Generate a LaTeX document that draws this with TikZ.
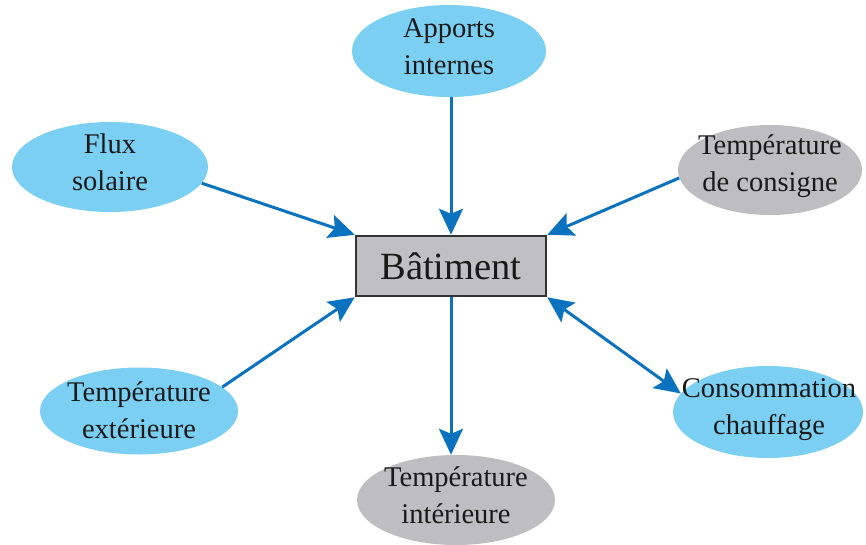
\documentclass[tikz,border=0pt]{standalone}
\usepackage{fontspec}
\setmainfont{Liberation Serif}
\usetikzlibrary{shapes.geometric,arrows.meta}
\definecolor{lblue}{HTML}{7BCFF3}
\definecolor{lgray}{HTML}{BEBEC2}
\definecolor{boxgray}{HTML}{C0C0C4}
\definecolor{arrblue}{HTML}{0A72BE}
\tikzset{
  bubble/.style={ellipse, draw=none, inner sep=0pt},
  inbub/.style={bubble, fill=lblue},
  outbub/.style={bubble, fill=lgray},
  bubtext/.style={inner sep=0pt, align=center,
    font=\fontsize{28.5}{37}\selectfont, text=black!90},
  mainbox/.style={rectangle, draw=black!80, line width=2.5pt, fill=boxgray,
    minimum width=190pt, minimum height=60pt, inner sep=0pt,
    font=\fontsize{38.5}{42}\selectfont, text=black!90},
  conn/.style={draw=arrblue, line width=3pt,
    -{Stealth[length=26pt,width=24pt,inset=5pt]}},
  dconn/.style={draw=arrblue, line width=3pt,
    {Stealth[length=26pt,width=24pt,inset=5pt]}-{Stealth[length=26pt,width=24pt,inset=5pt]}}
}
\begin{document}
\begin{tikzpicture}[x=1pt,y=-1pt]
\useasboundingbox (0,0) rectangle (866,544);
\node[mainbox] (bat) at (451,266) {Bâtiment};
\node[inbub, minimum width=194pt, minimum height=92pt] (app) at (449,51) {};
\node[bubtext] (appt) at (449,47) {Apports\\internes};
\node[inbub, minimum width=196pt, minimum height=90pt] (flux) at (110,167) {};
\node[bubtext] (fluxt) at (110,162) {Flux\\solaire};
\node[outbub, minimum width=184pt, minimum height=90pt] (cons) at (770,170) {};
\node[bubtext] (const) at (770,166) {Température\\de consigne};
\node[inbub, minimum width=198pt, minimum height=87pt] (ext) at (139,411) {};
\node[bubtext] (extt) at (139,410) {Température\\extérieure};
\node[outbub, minimum width=198pt, minimum height=90pt] (int) at (456,500) {};
\node[bubtext] (intt) at (456,495) {Température\\intérieure};
\node[inbub, minimum width=190pt, minimum height=92pt] (conso) at (768,412) {};
\node[bubtext] (consot) at (769,410) {Consommation\\chauffage};
\draw[conn] (bat.north |- app.south) -- (bat.north);
\draw[conn] (flux.-10) -- (bat.north west);
\draw[conn] (cons.185) -- (bat.north east);
\draw[conn] (ext.16) -- (bat.south west);
\draw[conn] (bat.south) -- (bat.south |- int.north);
\draw[dconn] (bat.south east) -- (conso.168);
\end{tikzpicture}
\end{document}
